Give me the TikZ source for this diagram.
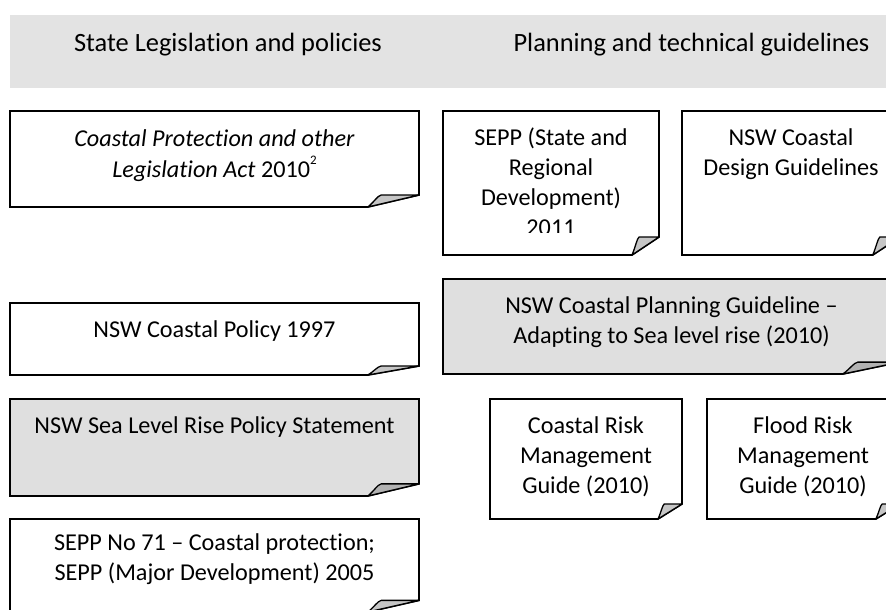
\documentclass[tikz,border=0pt]{standalone}
\usepackage{fontspec}
\setmainfont{Carlito}[Ligatures={NoCommon,NoContextual}]
\definecolor{bannergrey}{HTML}{E3E3E3}
\definecolor{boxgrey}{HTML}{DFDFDF}
\definecolor{foldlight}{HTML}{C6C6C6}
\definecolor{folddark}{HTML}{B2B2B2}
\tikzset{
  boxline/.style={draw=black, line width=1.7pt, line join=miter},
  foldline/.style={draw=black, line width=1.3pt, line join=round},
  boxtext/.style={font=\fontsize{24.2}{30}\selectfont, align=center, anchor=north, inner sep=0pt},
  bannertext/.style={font=\fontsize{26.4}{32}\selectfont, anchor=base, inner sep=0pt},
}
% #1 name, #2 left, #3 top, #4 right, #5 bottom, #6 fill, #7 fold fill
\newcommand\foldbox[7]{%
  \pgfmathsetmacro\fdx{(#4-#2)/8}%
  \pgfmathsetmacro\fdy{(#5-#3)/8}%
  \path[boxline, fill=#6] (#2,#3) -- (#4,#3) -- (#4,#5-\fdy) -- (#4-\fdx,#5) -- (#2,#5) -- cycle;
  \path[foldline, fill=#7] (#4-\fdx,#5) .. controls (#4-0.86*\fdx,#5-0.5*\fdy) and (#4-0.82*\fdx,#5-0.9*\fdy) .. (#4-0.74*\fdx,#5-\fdy) -- (#4,#5-\fdy) -- cycle;
  \coordinate (#1) at ({(#2+#4)/2},#3);
}
\newcommand\supsmall[1]{\raisebox{13pt}{\fontsize{13}{13}\selectfont #1}}
\begin{document}
\begin{tikzpicture}[x=1pt, y=-1pt]
\useasboundingbox (0,0) rectangle (886,610);
\clip (0,0) rectangle (886,610);

% banner
\path[fill=bannergrey] (10,15) rectangle (900,88);
\node[bannertext] (hleft) at (228,52) {State Legislation and policies};
\node[bannertext] (hright) at (691.5,52) {Planning and technical guidelines};

% left column
\foldbox{cpbox}{10}{111}{419}{207}{white}{foldlight}
\node[boxtext] (cp) at (214.5,125) {\strut\textit{Coastal Protection and other}\\\textit{Legislation Act} 2010\supsmall{2}};

\foldbox{polbox}{10}{303}{419}{375}{white}{foldlight}
\node[boxtext] (pol) at (214.5,316) {\strut NSW Coastal Policy 1997};

\foldbox{slrbox}{10}{399}{419}{496}{boxgrey}{folddark}
\node[boxtext] (slr) at (214.5,412) {\strut NSW Sea Level Rise Policy Statement};

\foldbox{sepbox}{10}{519}{419}{612}{white}{foldlight}
\node[boxtext] (sep) at (214.5,529) {\strut SEPP No 71 – Coastal protection;\\SEPP (Major Development) 2005};

% right column
\foldbox{srdbox}{443}{111}{659}{255}{white}{foldlight}
\begin{scope}
\clip (443,111) rectangle (659,232);
\node[boxtext] (srd) at (551,124) {\strut SEPP (State and\\Regional\\Development)\\2011};
\end{scope}

\foldbox{desbox}{682}{111}{900}{255}{white}{foldlight}
\node[boxtext] (des) at (791,124) {\strut NSW Coastal\\Design Guidelines};

\foldbox{plnbox}{443}{279}{900}{374}{boxgrey}{folddark}
\node[boxtext] (pln) at (671.5,292) {\strut NSW Coastal Planning Guideline –\\Adapting to Sea level rise (2010)};

\foldbox{crbox}{490}{399}{682}{519}{white}{foldlight}
\node[boxtext] (cr) at (586,412) {\strut Coastal Risk\\Management\\Guide (2010)};

\foldbox{frbox}{707}{399}{900}{519}{white}{foldlight}
\node[boxtext] (fr) at (803,412) {\strut Flood Risk\\Management\\Guide (2010)};
\end{tikzpicture}
\end{document}
